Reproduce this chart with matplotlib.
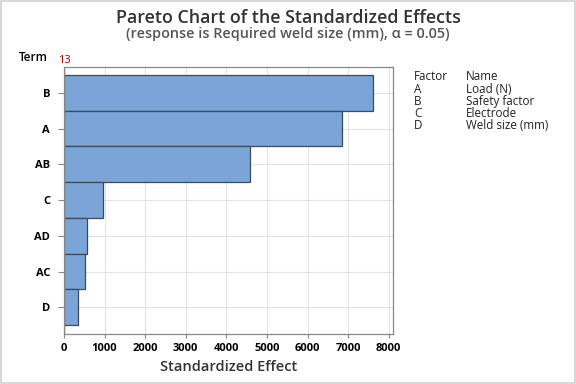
import matplotlib.pyplot as plt
import numpy as np

# Pareto chart data (top to bottom)
terms = ["B", "A", "AB", "C", "AD", "AC", "D"]
effects = [7620, 6860, 4580, 960, 570, 520, 350]
ref_value = 13
factors = ["A", "B", "C", "D"]
names = ["Load (N)", "Safety factor", "Electrode", "Weld size (mm)"]

plt.rcParams['font.family'] = ['Open Sans', 'DejaVu Sans']

fig = plt.figure(figsize=(5.76, 3.84), dpi=100)
fig.patch.set_edgecolor('#d8d8d8')
fig.patch.set_linewidth(1.5)
ax = fig.add_axes([0.111, 0.130, 0.571, 0.696])

y = np.arange(len(terms))
ax.barh(y, effects, height=1.0, color='#7BA4D7', edgecolor='#3b4a5c',
        linewidth=0.9, zorder=2)
# reference line sits behind the bars
ax.axvline(ref_value, color='#c00000', linewidth=0.9, zorder=1.5)

ax.set_ylim(len(terms) - 0.25, -0.73)
ax.set_xlim(0, 8100)
ax.set_yticks(y)
ax.set_yticklabels(terms, fontsize=8, fontweight='bold')
ax.set_xticks(np.arange(0, 8001, 1000))
ax.tick_params(axis='x', labelsize=8, length=3, color='#888888')
ax.tick_params(axis='y', length=4, color='#888888', pad=6)
for lab in ax.get_xticklabels():
    lab.set_fontweight('bold')
ax.grid(True, color='#e2e2e2', linewidth=0.8, zorder=0)
ax.set_axisbelow(True)
for s in ax.spines.values():
    s.set_color('#888888')
    s.set_linewidth(0.9)

ax.set_xlabel("Standardized Effect", fontsize=10.5, fontweight='semibold',
              color='#333333', labelpad=4)
ax.text(-0.05, 1.012, "Term", transform=ax.transAxes, fontsize=8.5,
        fontweight='semibold', ha='right', va='bottom')
ax.text(ref_value, 1.003, "13", transform=ax.get_xaxis_transform(),
        fontsize=8, color='#b00000', ha='center', va='bottom')

fig.text(0.5, 0.953, "Pareto Chart of the Standardized Effects", ha='center',
         va='center', fontsize=12.9, fontweight='semibold', color='#333333')
fig.text(0.5, 0.911, "(response is Required weld size (mm), α = 0.05)",
         ha='center', va='center', fontsize=10.4, fontweight='semibold',
         color='#555555')

# factor legend table
lx1, lx2 = 414 / 576, 466 / 576
fig.text(lx1, 1 - 77 / 384, "Factor", fontsize=8.4, va='center', color='#222222')
fig.text(lx2, 1 - 77 / 384, "Name", fontsize=8.4, va='center', color='#222222')
for i, (f, n) in enumerate(zip(factors, names)):
    yy = 1 - (89.5 + 12 * i) / 384
    fig.text(lx1, yy, f, fontsize=8.4, va='center', color='#222222')
    fig.text(lx2, yy, n, fontsize=8.4, va='center', color='#222222')

fig.savefig("out.png", dpi=100, edgecolor=fig.get_edgecolor())
